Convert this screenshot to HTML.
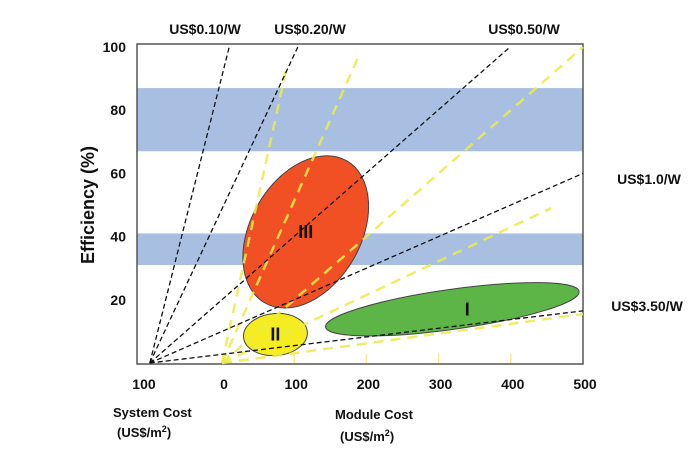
<!DOCTYPE html>
<html><head><meta charset="utf-8">
<style>
html,body{margin:0;padding:0;background:#fff;}
svg text{font-family:"Liberation Sans",sans-serif;font-weight:bold;fill:#111;}
</style></head>
<body>
<svg width="699" height="469" viewBox="0 0 699 469" id="chart"></svg>
<script>
// data: module cost (US$/m2) vs efficiency (%)
const yTicks = [20, 40, 60, 80, 100];
const xTickLabels = ["100", "0", "100", "200", "300", "400", "500"];
const xTickValues = [-115, 0, 100, 200, 300, 400, 500];
const bands = [[67, 87], [31, 41]];
const blackOrigin = [-100, 0];
const blackEndX = [10, 105, 399, 500, 500];
const blackEndY = [100, 100, 100, 60, 16.5];
const yellowEndX = [90, 188, 500, 456, 500];
const yellowEndY = [94, 96.5, 100, 49, 15.5];
const perWattLabels = ["US$0.10/W", "US$0.20/W", "US$0.50/W", "US$1.0/W", "US$3.50/W"];
const regionNames = ["III", "II", "I"];
const regionCx = [116, 74, 319];
const regionCy = [41.5, 9, 17];

const NS = "http://www.w3.org/2000/svg";
const svg = document.getElementById("chart");
const X = v => 222 + 0.722 * v;
const Y = v => 363 - 3.16 * v;
function mk(tag, attrs, parent) {
  const e = document.createElementNS(NS, tag);
  for (const k in attrs) e.setAttribute(k, attrs[k]);
  (parent || svg).appendChild(e);
  return e;
}
bands.forEach(b => {
  const r = mk("rect", {x: 137, y: Y(b[1]), width: 446, height: Y(b[0]) - Y(b[1]), fill: "#a8bfe1"});
  
  
});
[100, 200, 300, 400].forEach(v => {
  const t = mk("line", {x1: X(v), x2: X(v), y1: 354, y2: 363, stroke: "#f3f08a", "stroke-width": 1.5});
  
  
});
const ax = mk("path", {d: "M137,44 V364 H583 V44 Z", fill: "none", stroke: "#555", "stroke-width": 1.5});


const ell = [
  {rx: 82, ry: 55, rot: -60, fill: "#f05024", name: "region-iii-ellipse"},
  {rx: 32, ry: 21, rot: -5, fill: "#f5ec22", name: "region-ii-ellipse"},
  {rx: 128, ry: 20, rot: -8, fill: "#5db548", name: "region-i-ellipse"}
];
ell.forEach((o, i) => {
  const cx = X(regionCx[i]), cy = Y(regionCy[i]);
  const e = mk("ellipse", {cx: cx, cy: cy, rx: o.rx, ry: o.ry, transform: `rotate(${o.rot} ${cx} ${cy})`, fill: o.fill, stroke: "#444", "stroke-width": 1});
  
  
});
yellowEndX.forEach((x, i) => {
  const l = mk("line", {x1: X(0), y1: Y(0), x2: X(x), y2: Y(yellowEndY[i]), stroke: "#ecec4a", "stroke-width": 2.5, "stroke-dasharray": "10 7", opacity: 0.85});
  
  
});
blackEndX.forEach((x, i) => {
  const l = mk("line", {x1: X(blackOrigin[0]), y1: Y(blackOrigin[1]), x2: X(x), y2: Y(blackEndY[i]), stroke: "#111", "stroke-width": 1.3, "stroke-dasharray": "5 3"});
  
  
});
regionNames.forEach((n, i) => {
  const t = mk("text", {x: X(regionCx[i]) + (i === 2 ? 15 : 0), y: Y(regionCy[i]) + 6, "text-anchor": "middle", "font-size": 18});
  t.textContent = n;
  
  
});
yTicks.forEach(v => {
  const t = mk("text", {x: 126, y: Y(v) + 5, "text-anchor": "end", "font-size": 14});
  t.textContent = v;
  
  
});
xTickLabels.forEach((s, i) => {
  const t = mk("text", {x: X(xTickValues[i]) + (i === 0 ? 5 : 2), y: 389, "text-anchor": "middle", "font-size": 14});
  t.textContent = s;
  
  
});
const lp = [[205, 34], [310, 34], [524, 34], [649, 184], [647, 311]];
perWattLabels.forEach((s, i) => {
  const t = mk("text", {x: lp[i][0], y: lp[i][1], "text-anchor": "middle", "font-size": 14});
  t.textContent = s;
  
  
});
</script>
<svg width="699" height="469" style="position:absolute;left:0;top:0">
  <text x="94" y="205" text-anchor="middle" font-size="18" transform="rotate(-90 94 205)">Efficiency (%)</text>
  <text x="113" y="417" font-size="13">System Cost</text>
  <text x="117" y="437" font-size="13">(US$/m<tspan font-size="9" dy="-5">2</tspan><tspan dy="5">)</tspan></text>
  <text x="335" y="419" font-size="13">Module Cost</text>
  <text x="340" y="441" font-size="13">(US$/m<tspan font-size="9" dy="-5">2</tspan><tspan dy="5">)</tspan></text>
</svg>
</body></html>
